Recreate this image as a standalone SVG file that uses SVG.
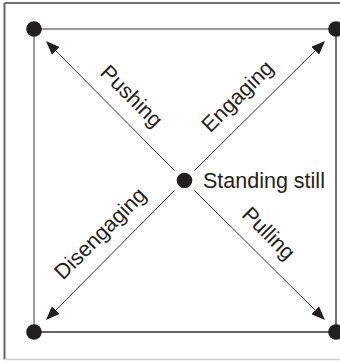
<svg xmlns="http://www.w3.org/2000/svg" width="340" height="361" viewBox="0 0 340 361">
<style>
.lbl{font-family:"Liberation Sans",Arial,Helvetica,sans-serif;font-size:21.5px;fill:#231f20}
.arr{stroke:#333;stroke-width:1;fill:none;marker-end:url(#ah)}
.dot{fill:#231f20}
</style>
<defs>
<marker id="ah" markerUnits="userSpaceOnUse" markerWidth="14" markerHeight="11" refX="12" refY="5.5" orient="auto" viewBox="0 0 14 11">
<path d="M0,0 L14,5.5 L0,11 z" fill="#231f20"/>
</marker>
</defs>
<rect width="340" height="361" fill="#fff"/>
<g id="frame">
<line x1="4.5" y1="3" x2="340" y2="3" stroke="#444" stroke-width="1.5"/>
<line x1="4.5" y1="3" x2="4.5" y2="359.5" stroke="#666" stroke-width="2"/>
<line x1="4.5" y1="359.5" x2="340" y2="359.5" stroke="#d0d0d0" stroke-width="1.5"/>
</g>
<g id="square">
<line x1="34" y1="29" x2="336" y2="29" stroke="#777" stroke-width="1.5"/>
<line x1="34" y1="29" x2="34" y2="332" stroke="#999" stroke-width="2"/>
<line x1="34" y1="332" x2="336" y2="332" stroke="#333" stroke-width="1.5"/>
<line x1="336" y1="29" x2="336" y2="332" stroke="#444" stroke-width="1.5"/>
</g>
<g id="connectors">
<line class="arr" x1="174.6" y1="170.6" x2="47.4" y2="42.4"/>
<line class="arr" x1="194.4" y1="170.6" x2="323.6" y2="42.4"/>
<line class="arr" x1="174.6" y1="190.4" x2="47.4" y2="318.6"/>
<line class="arr" x1="194.4" y1="190.4" x2="323.6" y2="318.6"/>
</g>
<g id="node-tl"><circle class="dot" cx="34" cy="29" r="7.8"/></g>
<g id="node-tr"><circle class="dot" cx="336" cy="29" r="7.8"/></g>
<g id="node-bl"><circle class="dot" cx="34" cy="332" r="7.8"/></g>
<g id="node-br"><circle class="dot" cx="336" cy="332" r="7.8"/></g>
<g id="node-center">
<circle class="dot" cx="184.5" cy="180.5" r="7.8"/>
<text class="lbl" x="203" y="187.5">Standing still</text>
</g>
<g id="labels">
<g transform="translate(184.5,180.5) rotate(45)">
<text class="lbl" x="-97" y="-15" text-anchor="middle">Pushing</text>
<text class="lbl" x="97" y="-15" text-anchor="middle">Pulling</text>
</g>
<g transform="translate(184.5,180.5) rotate(-45)">
<text class="lbl" x="97" y="-15" text-anchor="middle">Engaging</text>
<text class="lbl" x="-97" y="-15" text-anchor="middle">Disengaging</text>
</g>
</g>
</svg>
